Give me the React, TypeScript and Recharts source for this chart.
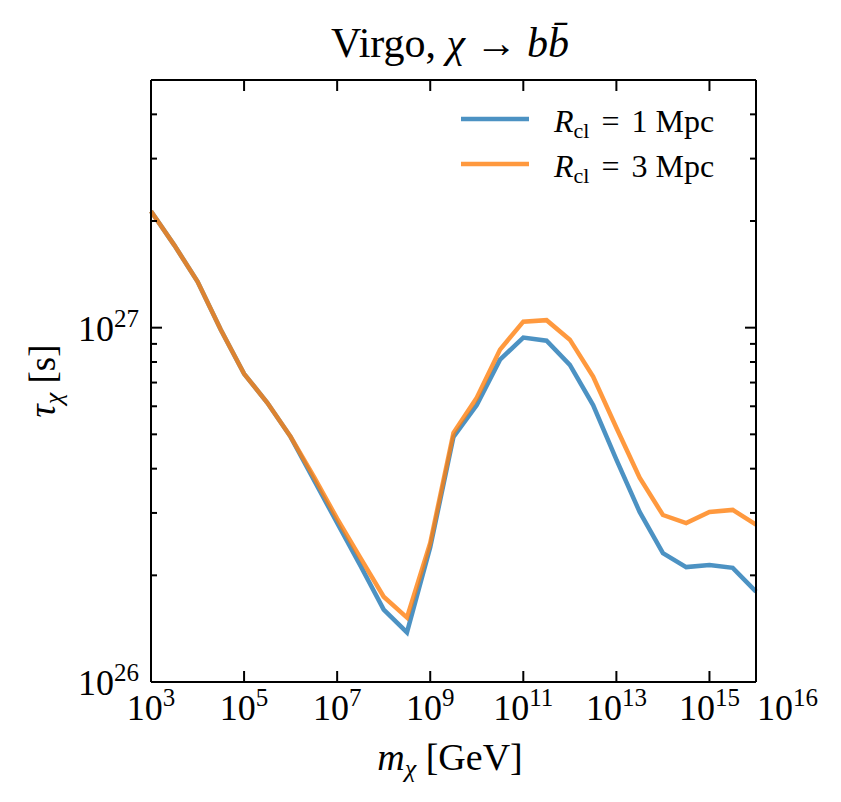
import React from "react";
import { LineChart, Line, XAxis, YAxis, Legend } from "recharts";

// dark matter mass m_chi [GeV], half-decade steps
const masses = [
  1e3, 3.16e3, 1e4, 3.16e4, 1e5, 3.16e5, 1e6, 3.16e6, 1e7, 3.16e7, 1e8, 3.16e8, 1e9, 3.16e9,
  1e10, 3.16e10, 1e11, 3.16e11, 1e12, 3.16e12, 1e13, 3.16e13, 1e14, 3.16e14, 1e15, 3.16e15, 1e16,
];

// lifetime bound tau_chi [s], R_cl = 1 Mpc
const tauR1 = [
  2.13e27, 1.71e27, 1.35e27, 9.86e26, 7.41e26, 6.14e26, 4.92e26, 3.72e26, 2.81e26, 2.13e26,
  1.6e26, 1.38e26, 2.4e26, 4.92e26, 6.05e26, 8.12e26, 9.38e26, 9.19e26, 7.85e26, 6.05e26,
  4.24e26, 3.02e26, 2.31e26, 2.11e26, 2.14e26, 2.1e26, 1.8e26,
];

// lifetime bound tau_chi [s], R_cl = 3 Mpc
const tauR3 = [
  2.13e27, 1.71e27, 1.35e27, 9.86e26, 7.41e26, 6.14e26, 4.92e26, 3.8e26, 2.89e26, 2.24e26,
  1.74e26, 1.52e26, 2.47e26, 5.05e26, 6.34e26, 8.67e26, 1.04e27, 1.05e27, 9.25e26, 7.28e26,
  5.22e26, 3.77e26, 2.96e26, 2.81e26, 3.02e26, 3.06e26, 2.78e26,
];

const xTicks = [1e3, 1e5, 1e7, 1e9, 1e11, 1e13, 1e15, 1e16];
const yTicks = [
  1e26, 2e26, 3e26, 4e26, 5e26, 6e26, 7e26, 8e26, 9e26, 1e27, 2e27, 3e27, 4e27, 5e27,
];

const data = masses.map((m, i) => ({ m, r1: tauR1[i], r3: tauR3[i] }));

const FONT = "'Liberation Serif', 'DejaVu Serif', serif";
const exponent = (v: number) => Math.round(Math.log10(v));
const isMajor = (v: number) => Math.abs(Math.log10(v) - exponent(v)) < 1e-6;

const BottomTick = ({ x, y, payload }: any) => {
  const e = exponent(payload.value);
  const last = e === 16;
  return (
    <g>
      <line x1={x} x2={x} y1={y} y2={y - 11} stroke="#000" strokeWidth={2} />
      <text x={last ? x + 1 : x} y={y + 38} textAnchor={last ? "start" : "middle"} fontFamily={FONT} fill="#000">
        <tspan fontSize={36}>10</tspan>
        <tspan fontSize={25} dy={-14}>{e}</tspan>
      </text>
    </g>
  );
};

const TopTick = ({ x, y }: any) => (
  <line x1={x} x2={x} y1={y} y2={y + 11} stroke="#000" strokeWidth={2} />
);

const LeftTick = ({ x, y, payload }: any) => {
  const major = isMajor(payload.value);
  return (
    <g>
      <line x1={x} x2={x + (major ? 11 : 6)} y1={y} y2={y} stroke="#000" strokeWidth={2} />
      {major && (
        <text x={x - 12} y={y + 13} textAnchor="end" fontFamily={FONT} fill="#000">
          <tspan fontSize={36}>10</tspan>
          <tspan fontSize={25} dy={-14}>{exponent(payload.value)}</tspan>
        </text>
      )}
    </g>
  );
};

const RightTick = ({ x, y, payload }: any) => {
  const major = isMajor(payload.value);
  return <line x1={x} x2={x - (major ? 11 : 6)} y1={y} y2={y} stroke="#000" strokeWidth={2} />;
};

const TitleLabel = () => (
  <text x={450} y={57} textAnchor="middle" fontFamily={FONT} fontSize={42} fill="#000">
    Virgo, <tspan fontStyle="italic">χ</tspan>
    <tspan dx={10}>→</tspan>
    <tspan dx={10} fontStyle="italic">b</tspan>
    <tspan fontStyle="italic">{"b\u0304"}</tspan>
  </text>
);

const XLabel = () => (
  <text x={450} y={770} textAnchor="middle" fontFamily={FONT} fontSize={38} fill="#000">
    <tspan fontStyle="italic">m</tspan>
    <tspan fontStyle="italic" fontSize={26} dy={7}>χ</tspan>
    <tspan dy={-7}> [GeV]</tspan>
  </text>
);

const YLabel = () => (
  <text
    x={0}
    y={0}
    transform="translate(55 381) rotate(-90)"
    textAnchor="middle"
    fontFamily={FONT}
    fontSize={37}
    fill="#000"
  >
    <tspan fontStyle="italic">τ</tspan>
    <tspan fontStyle="italic" fontSize={26} dy={7}>χ</tspan>
    <tspan dy={-7}> [s]</tspan>
  </text>
);

const LegendBox = ({ payload }: any) => (
  <svg width={300} height={100}>
    {(payload || []).map((p: any, i: number) => (
      <g key={p.value}>
        <line x1={11} x2={79} y1={24 + i * 45} y2={24 + i * 45} stroke={p.color} strokeOpacity={0.8} strokeWidth={4.5} />
        <text x={104} y={37 + i * 45} fontFamily={FONT} fontSize={32} fill="#000">
          <tspan fontStyle="italic">R</tspan>
          <tspan fontSize={22} dy={6}>cl</tspan>
          <tspan dy={-6} dx={12}>=</tspan>
          <tspan dx={12}>{p.value}</tspan>
        </text>
      </g>
    ))}
  </svg>
);

export default function App() {
  return (
    <div style={{ position: "absolute", left: 0, top: 0, width: 841, height: 802, background: "#fff" }}>
      <LineChart width={841} height={802} data={data} margin={{ top: 79, right: 84, bottom: 119, left: 150 }}>
        <XAxis
          xAxisId="bottom"
          dataKey="m"
          type="number"
          scale="log"
          domain={[1e3, 1e16]}
          ticks={xTicks}
          interval={0}
          height={1}
          tickSize={0}
          tickMargin={0}
          tick={<BottomTick />}
          axisLine={{ stroke: "#000", strokeWidth: 2 }}
          label={<XLabel />}
        />
        <XAxis
          xAxisId="top"
          orientation="top"
          dataKey="m"
          type="number"
          scale="log"
          domain={[1e3, 1e16]}
          ticks={xTicks.slice(0, -1)}
          interval={0}
          height={1}
          tickSize={0}
          tickMargin={0}
          tick={<TopTick />}
          axisLine={{ stroke: "#000", strokeWidth: 2 }}
          label={<TitleLabel />}
        />
        <YAxis
          yAxisId="left"
          type="number"
          scale="log"
          domain={[1e26, 5e27]}
          ticks={yTicks}
          interval={0}
          width={1}
          tickSize={0}
          tickMargin={0}
          tick={<LeftTick />}
          axisLine={{ stroke: "#000", strokeWidth: 2 }}
          allowDataOverflow
          label={<YLabel />}
        />
        <YAxis
          yAxisId="right"
          orientation="right"
          type="number"
          scale="log"
          domain={[1e26, 5e27]}
          ticks={yTicks}
          interval={0}
          width={1}
          tickSize={0}
          tickMargin={0}
          tick={<RightTick />}
          axisLine={{ stroke: "#000", strokeWidth: 2 }}
          allowDataOverflow
        />
        <Legend
          layout="vertical"
          align="center"
          verticalAlign="middle"
          content={<LegendBox />}
          wrapperStyle={{ top: 95, left: 450, width: 300, height: 100 }}
        />
        <Line
          xAxisId="bottom"
          yAxisId="left"
          dataKey="r1"
          name="1 Mpc"
          stroke="#1f77b4"
          strokeOpacity={0.8}
          strokeWidth={4.5}
          dot={false}
          type="linear"
          isAnimationActive={false}
        />
        <Line
          xAxisId="bottom"
          yAxisId="left"
          dataKey="r3"
          name="3 Mpc"
          stroke="#ff7f0e"
          strokeOpacity={0.8}
          strokeWidth={4.5}
          dot={false}
          type="linear"
          isAnimationActive={false}
        />
      </LineChart>
    </div>
  );
}
